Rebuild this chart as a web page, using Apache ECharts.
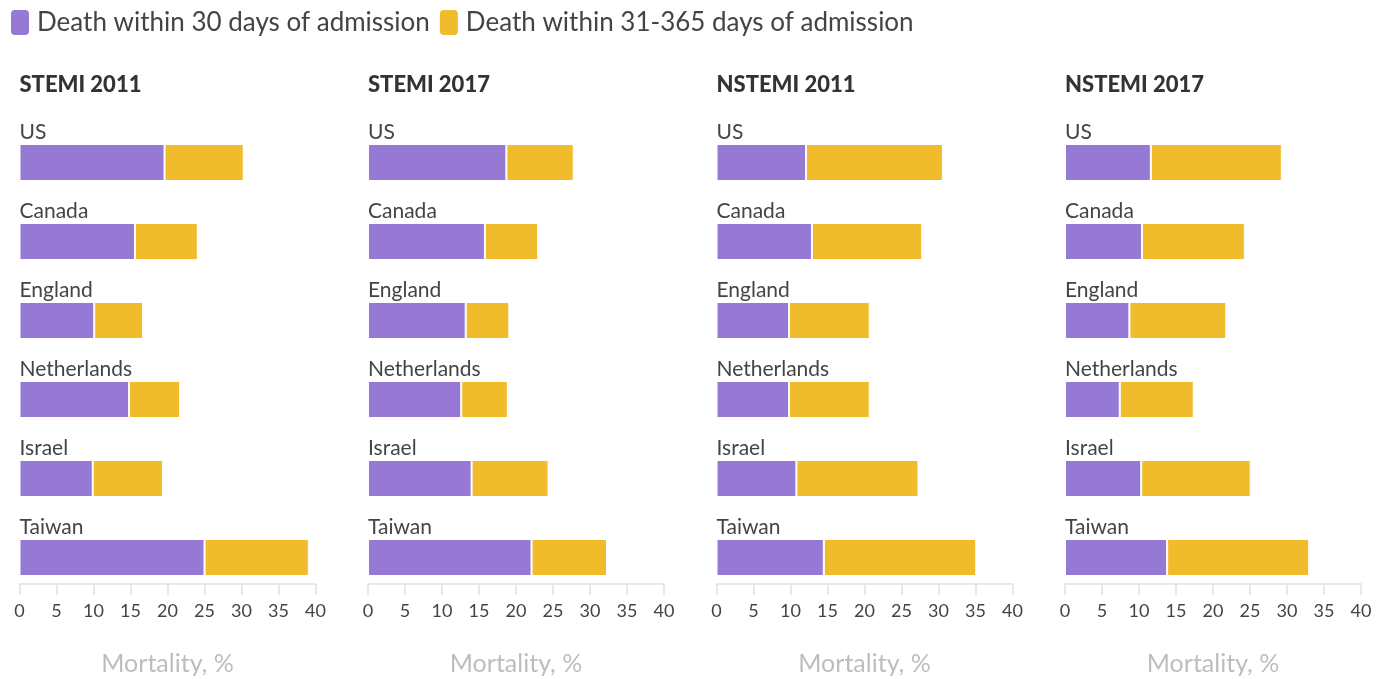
<!DOCTYPE html>
<html>
<head>
<meta charset="utf-8">
<script src="https://cdn.jsdelivr.net/npm/echarts@6/dist/echarts.min.js"></script>
<style>html,body{margin:0;padding:0;background:#fff;}#chart{width:1383px;height:679px;}</style>
</head>
<body>
<div id="chart"></div>
<script>
const countries = ['US', 'Canada', 'England', 'Netherlands', 'Israel', 'Taiwan'];
const panelTitles = ['STEMI 2011', 'STEMI 2017', 'NSTEMI 2011', 'NSTEMI 2017'];
const seriesNames = ['Death within 30 days of admission', 'Death within 31-365 days of admission'];
// 30-day mortality (%)
const death30_stemi2011 = [19.6, 15.6, 10.1, 14.8, 9.9, 25.0];
const death30_stemi2017 = [18.7, 15.8, 13.2, 12.6, 14.0, 22.1];
const death30_nstemi2011 = [12.1, 12.9, 9.8, 9.8, 10.8, 14.5];
const death30_nstemi2017 = [11.6, 10.4, 8.7, 7.4, 10.3, 13.8];
// 31-365 day mortality (%)
const death365_stemi2011 = [10.7, 8.5, 6.6, 6.9, 9.5, 14.1];
const death365_stemi2017 = [9.1, 7.2, 5.9, 6.3, 10.4, 10.2];
const death365_nstemi2011 = [18.5, 14.9, 10.9, 10.9, 16.5, 20.6];
const death365_nstemi2017 = [17.7, 13.9, 13.1, 10.0, 14.8, 19.2];
const xTicks = [0, 5, 10, 15, 20, 25, 30, 35, 40];
const axisName = 'Mortality, %';

const d30 = [death30_stemi2011, death30_stemi2017, death30_nstemi2011, death30_nstemi2017];
const d365 = [death365_stemi2011, death365_stemi2017, death365_nstemi2011, death365_nstemi2017];

const FONT = 'Lato, "Open Sans", sans-serif';
const PURPLE = '#9679d4';
const YELLOW = '#f0bc2c';
const lefts = [19.5, 368, 716.5, 1065];
const W = 296;

const grids = [], xAxes = [], yAxes = [], series = [], titles = [];
for (let i = 0; i < 4; i++) {
  grids.push({ left: lefts[i], top: 123, width: W, height: 474, outerBoundsMode: 'none', containLabel: false });
  titles.push({ text: panelTitles[i], left: lefts[i], top: 74, padding: 0,
    textStyle: { fontFamily: FONT, fontSize: 22, fontWeight: 900, color: '#333' } });
  xAxes.push({
    type: 'value', gridIndex: i, min: xTicks[0], max: xTicks[xTicks.length - 1], interval: 5,
    offset: -13,
    splitLine: { show: false },
    axisLine: { show: true, lineStyle: { color: '#e8e8e8', width: 2 } },
    axisTick: { show: true, length: 11, lineStyle: { color: '#e8e8e8', width: 2 } },
    axisLabel: { fontFamily: FONT, fontSize: 18, color: '#444', margin: 18 },
    name: axisName, nameLocation: 'middle', nameGap: 67,
    nameTextStyle: { fontFamily: FONT, fontSize: 25, color: '#bdbdbd' }
  });
  yAxes.push({
    type: 'category', gridIndex: i, data: countries, inverse: true,
    axisLine: { show: false }, axisTick: { show: false }, axisLabel: { show: false },
    splitLine: { show: false }
  });
  series.push({
    name: seriesNames[0], type: 'bar', stack: 's' + i, xAxisIndex: i, yAxisIndex: i,
    data: d30[i], barWidth: 37,
    itemStyle: { color: PURPLE, borderColor: '#fff', borderWidth: 1 },
    label: { show: true, position: [0, -1], verticalAlign: 'bottom', align: 'left',
      formatter: p => p.name, fontFamily: FONT, fontSize: 21, lineHeight: 22, color: '#444' }
  });
  series.push({
    name: seriesNames[1], type: 'bar', stack: 's' + i, xAxisIndex: i, yAxisIndex: i,
    data: d365[i], barWidth: 37,
    itemStyle: { color: YELLOW, borderColor: '#fff', borderWidth: 1 }
  });
}

const chart = echarts.init(document.getElementById('chart'), null, { renderer: 'canvas' });
chart.setOption({
  animation: false,
  title: titles,
  legend: {
    left: 9, top: 8, padding: 0, itemWidth: 20, itemHeight: 27, itemGap: 8, icon: 'roundRect',
    data: seriesNames,
    textStyle: { fontFamily: FONT, fontSize: 26, color: '#444', padding: [0, 0, 0, 2] }
  },
  grid: grids, xAxis: xAxes, yAxis: yAxes, series: series
});
</script>
</body>
</html>
